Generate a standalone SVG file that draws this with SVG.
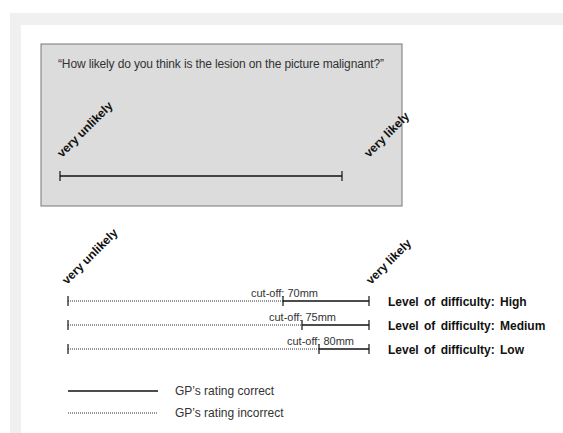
<svg xmlns="http://www.w3.org/2000/svg" width="563" height="433" viewBox="0 0 563 433">
<style>
.t{font-family:"Liberation Sans",Arial,sans-serif;fill:#333}
.b{font-family:"Liberation Sans",Arial,sans-serif;font-weight:bold;fill:#111}
.solid{stroke:#111;stroke-width:1.5;fill:none}
.dot{stroke:#333;stroke-width:1;stroke-dasharray:1 1;fill:none}
.tick{stroke:#111;stroke-width:1.2}
</style>
<rect x="0" y="0" width="563" height="433" fill="#fff"/>
<rect x="10" y="13" width="553" height="420" fill="#f0f0f0"/>
<rect x="21" y="25" width="542" height="408" fill="#fff"/>
<g id="question-box">
<rect x="41" y="44" width="361" height="162" fill="#dcdcdc" stroke="#777" stroke-width="1"/>
<text class="t" x="58" y="68" font-size="12" textLength="326">“How likely do you think is the lesion on the picture malignant?”</text>
<text class="b" font-size="12" transform="translate(62,158) rotate(-45)">very unlikely</text>
<text class="b" font-size="12" transform="translate(369,158) rotate(-45)">very likely</text>
<line class="solid" x1="60" y1="176" x2="342" y2="176"/>
<line class="tick" x1="60" y1="171" x2="60" y2="181"/>
<line class="tick" x1="342" y1="171" x2="342" y2="181"/>
</g>
<g id="scale-labels">
<text class="b" font-size="12" transform="translate(67,285) rotate(-45)">very unlikely</text>
<text class="b" font-size="12" transform="translate(371,285) rotate(-45)">very likely</text>
</g>
<g id="connectors">
<line class="dot" x1="68" y1="301" x2="283" y2="301"/>
<line class="solid" x1="283" y1="301" x2="369" y2="301"/>
<line class="dot" x1="68" y1="325" x2="302" y2="325"/>
<line class="solid" x1="302" y1="325" x2="369" y2="325"/>
<line class="dot" x1="68" y1="349" x2="319" y2="349"/>
<line class="solid" x1="319" y1="349" x2="369" y2="349"/>
<g class="tick">
<line x1="68" y1="296" x2="68" y2="306"/><line x1="369" y1="296" x2="369" y2="306"/><line x1="283" y1="296" x2="283" y2="306"/>
<line x1="68" y1="320" x2="68" y2="330"/><line x1="369" y1="320" x2="369" y2="330"/><line x1="302" y1="320" x2="302" y2="330"/>
<line x1="68" y1="344" x2="68" y2="354"/><line x1="369" y1="344" x2="369" y2="354"/><line x1="319" y1="344" x2="319" y2="354"/>
</g>
</g>
<g id="row-high">
<text class="t" x="251" y="297" font-size="11" textLength="67">cut-off: 70mm</text>
<text class="b" x="388" y="306" font-size="12" word-spacing="2">Level of difficulty: High</text>
</g>
<g id="row-medium">
<text class="t" x="269" y="321" font-size="11" textLength="67">cut-off: 75mm</text>
<text class="b" x="388" y="330" font-size="12" word-spacing="2">Level of difficulty: Medium</text>
</g>
<g id="row-low">
<text class="t" x="287" y="345" font-size="11" textLength="67">cut-off: 80mm</text>
<text class="b" x="388" y="354" font-size="12" word-spacing="2">Level of difficulty: Low</text>
</g>
<g id="legend">
<line class="solid" x1="68" y1="391" x2="158" y2="391"/>
<text class="t" x="175" y="395" font-size="12">GP’s rating correct</text>
<line class="dot" x1="68" y1="413" x2="158" y2="413"/>
<text class="t" x="175" y="417" font-size="12">GP’s rating incorrect</text>
</g>
</svg>
